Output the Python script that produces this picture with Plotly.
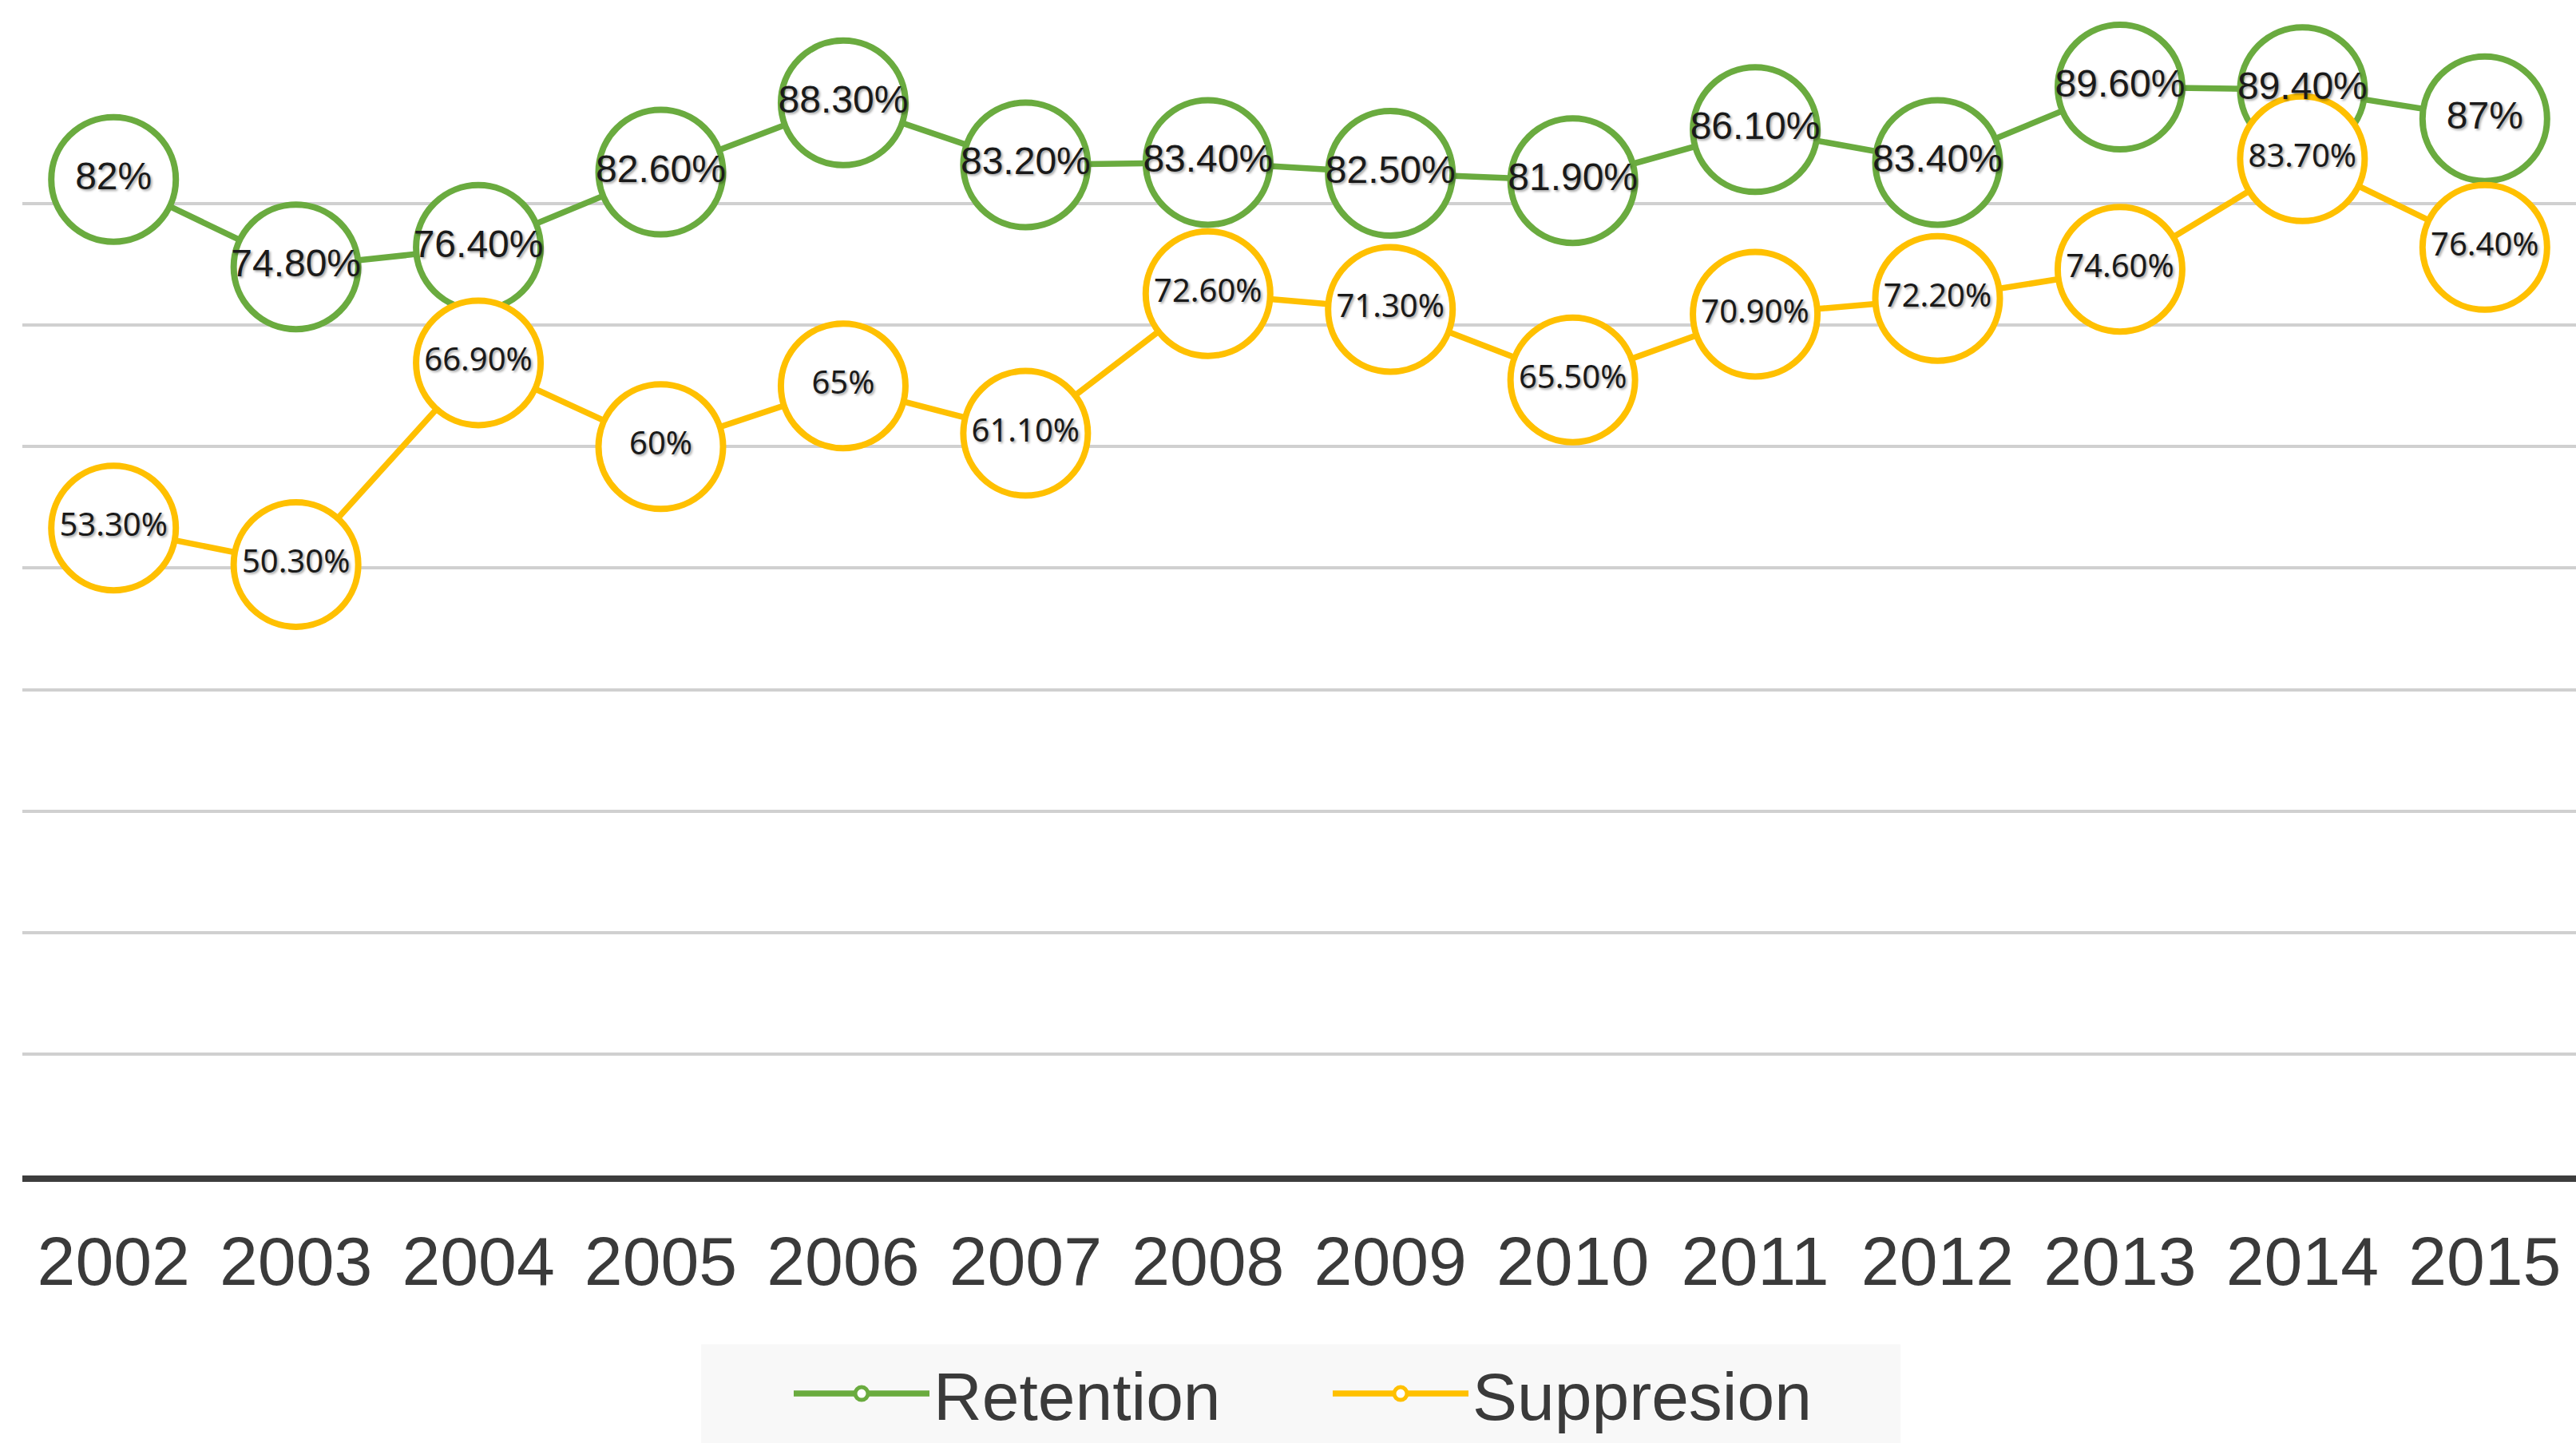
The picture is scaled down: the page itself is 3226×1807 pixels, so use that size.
import plotly.graph_objects as go

years = ["2002", "2003", "2004", "2005", "2006", "2007", "2008",
         "2009", "2010", "2011", "2012", "2013", "2014", "2015"]
retention = [82, 74.8, 76.4, 82.6, 88.3, 83.2, 83.4, 82.5, 81.9, 86.1, 83.4, 89.6, 89.4, 87]
suppression = [53.3, 50.3, 66.9, 60, 65, 61.1, 72.6, 71.3, 65.5, 70.9, 72.2, 74.6, 83.7, 76.4]
retention_labels = ["82%", "74.80%", "76.40%", "82.60%", "88.30%", "83.20%", "83.40%",
                    "82.50%", "81.90%", "86.10%", "83.40%", "89.60%", "89.40%", "87%"]
suppression_labels = ["53.30%", "50.30%", "66.90%", "60%", "65%", "61.10%", "72.60%",
                      "71.30%", "65.50%", "70.90%", "72.20%", "74.60%", "83.70%", "76.40%"]

GREEN = "#6AAB3F"
ORANGE = "#FFC000"

fig = go.Figure()
for name, vals, col in [("Retention", retention, GREEN), ("Suppresion", suppression, ORANGE)]:
    fig.add_trace(go.Scatter(
        x=years, y=vals, name=name, mode="lines+markers",
        line=dict(color=col, width=7.5),
        marker=dict(symbol="circle", size=156, color="white",
                    line=dict(color=col, width=8)),
        cliponaxis=False, hoverinfo="skip",
    ))

fig.add_trace(go.Scatter(
    x=years, y=retention, text=retention_labels, mode="text", showlegend=False,
    textposition="middle center", cliponaxis=False, hoverinfo="skip",
    textfont=dict(family="Liberation Sans, Arial", size=48, color="#1a1a1a",
                  shadow="2px 2px 3px rgba(0,0,0,0.35)"),
))
fig.add_trace(go.Scatter(
    x=years, y=suppression, text=suppression_labels, mode="text", showlegend=False,
    textposition="middle center", cliponaxis=False, hoverinfo="skip",
    textfont=dict(family="Noto Sans, Open Sans", size=40, color="#1a1a1a",
                  shadow="2px 2px 3px rgba(0,0,0,0.35)"),
))

# light grey panel behind the legend
fig.add_shape(type="rect", xref="paper", yref="paper",
              x0=0.2658, x1=0.7355, y0=-0.26, y1=-0.1545,
              fillcolor="#f8f8f8", line=dict(width=0), layer="below")

fig.update_layout(
    width=3226, height=1807,
    margin=dict(l=28, r=0, t=103, b=332),
    plot_bgcolor="rgba(0,0,0,0)", paper_bgcolor="white",
    xaxis=dict(
        type="category", range=[-0.5, 13.5],
        showgrid=False, showline=True, linecolor="#3d3d3d", linewidth=8,
        ticks="", tickfont=dict(family="Liberation Sans, Arial", size=86, color="#3a3a3a"),
        ticklabelstandoff=26, zeroline=False,
    ),
    yaxis=dict(
        range=[0, 90], dtick=10, showticklabels=False,
        showgrid=True, gridcolor="#d0d0d0", gridwidth=4, zeroline=False,
    ),
    legend=dict(
        orientation="h", x=0.3005, xanchor="left", y=-0.155, yanchor="top",
        bgcolor="rgba(0,0,0,0)", borderwidth=0,
        font=dict(family="Liberation Sans, Arial", size=84, color="#3a3a3a"),
        itemwidth=170, itemsizing="trace", entrywidth=490,
    ),
    showlegend=True,
)

fig.write_html("out.html")
